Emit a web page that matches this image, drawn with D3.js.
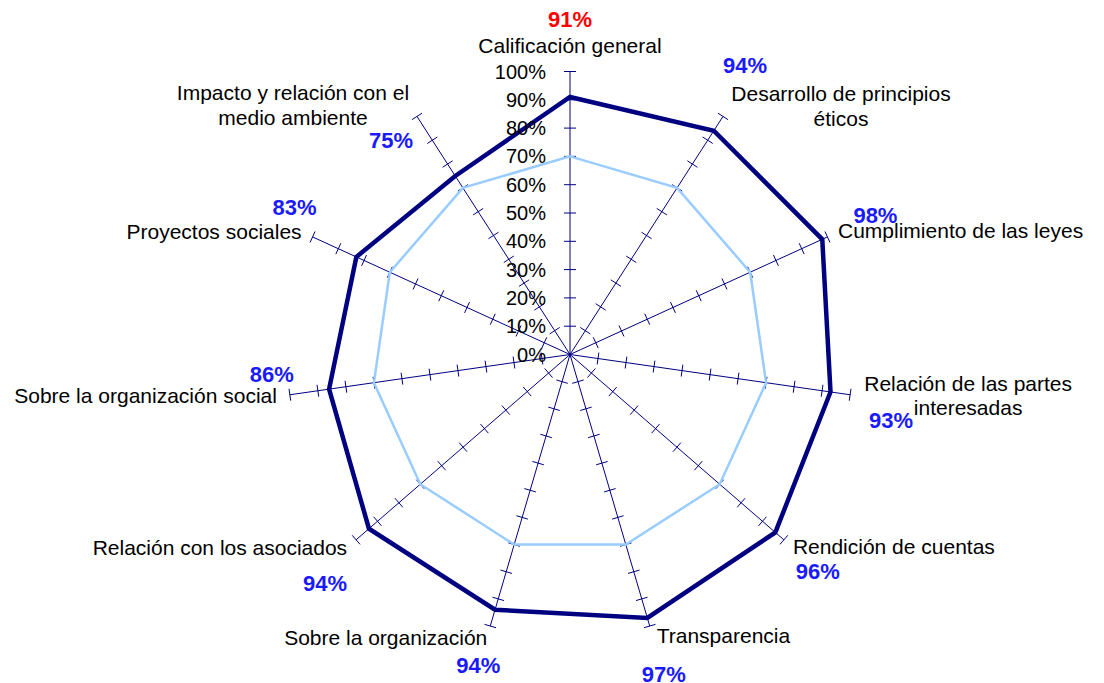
<!DOCTYPE html>
<html lang="es">
<head>
    <meta charset="UTF-8">
    <title>Radar - Calificación</title>
    <script src="https://d3js.org/d3.v7.min.js"></script>
    <style>
        body { margin: 0; background: #fff; font-family: Arial, "Liberation Sans", sans-serif; }
        svg { display: block; }
    </style>
</head>
<body>
<script>
    // Data
    const categories = [
        ["Calificación general"],
        ["Desarrollo de principios", "éticos"],
        ["Cumplimiento de las leyes"],
        ["Relación de las partes", "interesadas"],
        ["Rendición de cuentas"],
        ["Transparencia"],
        ["Sobre la organización"],
        ["Relación con los asociados"],
        ["Sobre la organización social"],
        ["Proyectos sociales"],
        ["Impacto y relación con el", "medio ambiente"]
    ];
    const results = [0.91, 0.94, 0.98, 0.93, 0.96, 0.97, 0.94, 0.94, 0.86, 0.83, 0.75];
    const target = [0.70, 0.70, 0.70, 0.70, 0.70, 0.70, 0.70, 0.70, 0.70, 0.70, 0.70];
    const tickValues = [0, 0.1, 0.2, 0.3, 0.4, 0.5, 0.6, 0.7, 0.8, 0.9, 1.0];

    // Label placement (offsets from the 100% tip of each spoke)
    const catLayout = [
        ["middle", 0, -18.5], ["middle", 118, -15.4], ["start", 10.6, 1],
        ["middle", 118, -4], ["start", 9, 14], ["start", 7, 17],
        ["end", -3, 19], ["end", -9, 15], ["end", -13, 8],
        ["end", -11, 2], ["middle", -124, -16]
    ];
    const valLayout = [
        [0, -44.5], [22, -43], [48, -14], [41, 33], [34, 39], [14, 56],
        [-12, 47], [-31, 51], [-18, -13], [-18, -22], [-26, 32]
    ];

    const width = 1104, height = 683;
    const cx = 570, cy = 354.5;
    const navy = "#000080";

    const svg = d3.select("body").append("svg")
        .attr("width", width)
        .attr("height", height);

    const g = svg.append("g").attr("transform", `translate(${cx},${cy})`);

    const r = d3.scaleLinear().domain([0, 1]).range([0, 283]);
    const angle = d3.scaleLinear().domain([0, categories.length]).range([0, 2 * Math.PI]);

    const pt = (i, v) => {
        const a = angle(i);
        return [r(v) * Math.sin(a), -r(v) * Math.cos(a)];
    };

    // Spokes with ticks
    const spokes = g.append("g");
    categories.forEach((c, i) => {
        const a = angle(i);
        const tip = pt(i, 1);
        spokes.append("line")
            .attr("x1", 0).attr("y1", 0)
            .attr("x2", tip[0]).attr("y2", tip[1])
            .attr("stroke", navy).attr("stroke-width", 1);
        const px = Math.cos(a), py = Math.sin(a);
        tickValues.slice(1).forEach(t => {
            const p = pt(i, t);
            spokes.append("line")
                .attr("x1", p[0] - px * 6).attr("y1", p[1] - py * 6)
                .attr("x2", p[0] + px * 6).attr("y2", p[1] + py * 6)
                .attr("stroke", navy).attr("stroke-width", 1);
        });
    });

    const radial = d3.lineRadial()
        .angle((d, i) => angle(i))
        .radius(d => r(d))
        .curve(d3.curveLinearClosed);

    g.append("path")
        .attr("d", radial(target))
        .attr("fill", "none")
        .attr("stroke", "#99ccff")
        .attr("stroke-width", 2.5)
        .attr("stroke-linejoin", "miter");

    g.append("path")
        .attr("d", radial(results))
        .attr("fill", "none")
        .attr("stroke", navy)
        .attr("stroke-width", 4.5)
        .attr("stroke-linejoin", "miter");

    // Tick labels on vertical axis
    g.append("g").selectAll("text")
        .data(tickValues)
        .join("text")
        .attr("x", -24)
        .attr("y", d => -r(d))
        .attr("dy", "0.35em")
        .attr("text-anchor", "end")
        .attr("font-size", 20)
        .attr("fill", "#000")
        .text(d => d3.format(".0%")(d));

    // Category labels
    categories.forEach((lines, i) => {
        const tip = pt(i, 1);
        const [anchor, dx, dy] = catLayout[i];
        const t = g.append("text")
            .attr("text-anchor", anchor)
            .attr("font-size", 21)
            .attr("fill", "#000");
        lines.forEach((ln, k) => {
            t.append("tspan")
                .attr("x", tip[0] + dx)
                .attr("y", tip[1] + dy + k * 24.5)
                .text(ln);
        });
    });

    // Value labels
    results.forEach((v, i) => {
        const tip = pt(i, 1);
        const [dx, dy] = valLayout[i];
        g.append("text")
            .attr("x", tip[0] + dx)
            .attr("y", tip[1] + dy)
            .attr("text-anchor", "middle")
            .attr("font-size", 22)
            .attr("font-weight", "bold")
            .attr("fill", i === 0 ? "#ff0000" : "#1a1aff")
            .text(d3.format(".0%")(v));
    });
</script>
</body>
</html>
